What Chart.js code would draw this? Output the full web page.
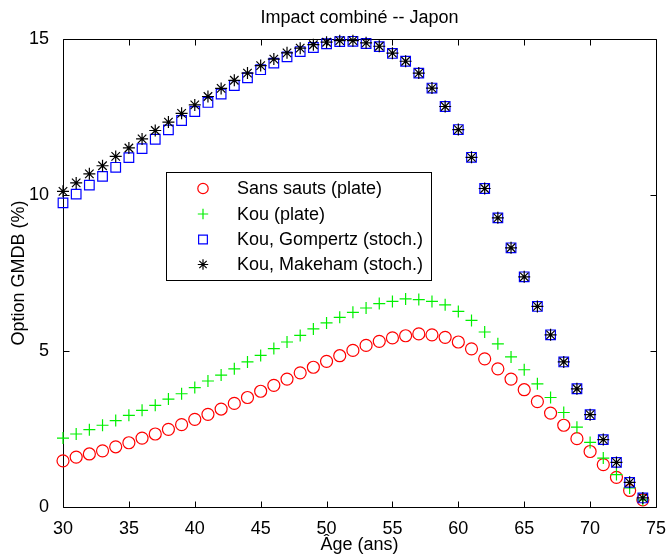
<!DOCTYPE html>
<html>
<head>
<meta charset="utf-8">
<title>Impact combiné -- Japon</title>
<script src="https://cdn.jsdelivr.net/npm/chart.js@4/dist/chart.umd.min.js"></script>
<style>
  body { margin: 0; background: #fff; }
  canvas { display: block; }
</style>
</head>
<body>
<canvas id="chart" width="669" height="558"></canvas>
<script>
// ages (ans)
const ages = [30, 31, 32, 33, 34, 35, 36, 37, 38, 39, 40, 41, 42, 43, 44,
  45, 46, 47, 48, 49, 50, 51, 52, 53, 54, 55, 56, 57, 58, 59,
  60, 61, 62, 63, 64, 65, 66, 67, 68, 69, 70, 71, 72, 73, 74];

// option GMDB (%) for each model
const sansSauts = [1.48, 1.60, 1.70, 1.80, 1.93, 2.06, 2.21, 2.34, 2.49, 2.64, 2.81, 2.97, 3.14, 3.32, 3.51,
  3.71, 3.90, 4.10, 4.30, 4.48, 4.67, 4.85, 5.02, 5.18, 5.31, 5.42, 5.49, 5.55, 5.52, 5.44,
  5.29, 5.07, 4.75, 4.43, 4.10, 3.76, 3.38, 3.01, 2.62, 2.19, 1.78, 1.36, 0.95, 0.53, 0.23];
const kouPlate = [2.21, 2.34, 2.48, 2.62, 2.77, 2.94, 3.10, 3.26, 3.46, 3.63, 3.83, 4.04, 4.23, 4.43, 4.65,
  4.86, 5.08, 5.29, 5.50, 5.71, 5.90, 6.08, 6.24, 6.38, 6.52, 6.59, 6.67, 6.65, 6.59, 6.48,
  6.27, 5.98, 5.61, 5.23, 4.81, 4.40, 3.95, 3.51, 3.03, 2.56, 2.07, 1.57, 1.04, 0.61, 0.23];
const kouGompertz = [9.75, 10.03, 10.32, 10.60, 10.89, 11.20, 11.49, 11.79, 12.09, 12.39, 12.68, 12.97, 13.24, 13.51, 13.76,
  14.02, 14.23, 14.43, 14.60, 14.73, 14.85, 14.92, 14.93, 14.86, 14.76, 14.54, 14.29, 13.91, 13.43, 12.84,
  12.10, 11.21, 10.21, 9.27, 8.31, 7.38, 6.43, 5.52, 4.65, 3.79, 2.96, 2.16, 1.43, 0.79, 0.29];
const kouMakeham = [10.12, 10.39, 10.68, 10.94, 11.24, 11.51, 11.80, 12.07, 12.34, 12.62, 12.89, 13.16, 13.42, 13.68, 13.91,
  14.15, 14.36, 14.56, 14.71, 14.82, 14.90, 14.95, 14.95, 14.88, 14.77, 14.55, 14.29, 13.91, 13.43, 12.84,
  12.10, 11.21, 10.21, 9.27, 8.31, 7.38, 6.43, 5.52, 4.65, 3.79, 2.96, 2.16, 1.43, 0.79, 0.29];

const seriesNames = ["Sans sauts (plate)", "Kou (plate)", "Kou, Gompertz (stoch.)", "Kou, Makeham (stoch.)"];
const xTicks = [30, 35, 40, 45, 50, 55, 60, 65, 70, 75];
const yTicks = [0, 5, 10, 15];

const FONT = "'Liberation Sans', Arial, Helvetica, sans-serif";
Chart.defaults.font.family = FONT;
Chart.defaults.font.size = 18;
Chart.defaults.color = "#000";

function toPoints(values) {
  return ages.map((a, i) => ({ x: a, y: values[i] }));
}

const styles = [
  { pointStyle: "circle", color: "#ff0000", radius: 6 },
  { pointStyle: "cross", color: "#00f000", radius: 6 },
  { pointStyle: "rect", color: "#0000ff", radius: 6.8 },
  { pointStyle: "star", color: "#000000", radius: 6 },
];
const seriesData = [sansSauts, kouPlate, kouGompertz, kouMakeham];

const datasets = seriesData.map((vals, i) => ({
  label: seriesNames[i],
  data: toPoints(vals),
  pointStyle: styles[i].pointStyle,
  pointRadius: styles[i].radius,
  pointHoverRadius: styles[i].radius,
  pointBorderColor: styles[i].color,
  pointBackgroundColor: "rgba(0,0,0,0)",
  pointBorderWidth: 1.2,
  showLine: false,
  clip: false,
  order: 3 - i, // later series on top
}));

// box with inward ticks on all four sides
const axesBox = {
  id: "axesBox",
  beforeDatasetsDraw(chart) {
    const { ctx, chartArea: a, scales } = chart;
    const l = Math.round(a.left) + 0.5, r = Math.round(a.right) + 0.5;
    const t = Math.round(a.top) + 0.5, b = Math.round(a.bottom) + 0.5;
    const tl = 6;
    ctx.save();
    ctx.strokeStyle = "#000";
    ctx.lineWidth = 1;
    ctx.beginPath();
    ctx.rect(l, t, r - l, b - t);
    xTicks.forEach((v) => {
      const px = Math.round(scales.x.getPixelForValue(v)) + 0.5;
      ctx.moveTo(px, b); ctx.lineTo(px, b - tl);
      ctx.moveTo(px, t); ctx.lineTo(px, t + tl);
    });
    yTicks.forEach((v) => {
      const py = Math.round(scales.y.getPixelForValue(v)) + 0.5;
      ctx.moveTo(l, py); ctx.lineTo(l + tl, py);
      ctx.moveTo(r, py); ctx.lineTo(r - tl, py);
    });
    ctx.stroke();
    ctx.restore();
  },
};

// legend box inside the plot
const boxLegend = {
  id: "boxLegend",
  afterDatasetsDraw(chart) {
    const ctx = chart.ctx;
    const box = { x: 166.5, y: 172.5, w: 265, h: 108 };
    const rowY = [188.5, 214, 239.5, 264.5];
    ctx.save();
    ctx.fillStyle = "#fff";
    ctx.fillRect(box.x, box.y, box.w, box.h);
    ctx.strokeStyle = "#000";
    ctx.lineWidth = 1;
    ctx.strokeRect(box.x, box.y, box.w, box.h);
    seriesNames.forEach((name, i) => {
      const st = styles[i];
      ctx.strokeStyle = st.color;
      ctx.fillStyle = "rgba(0,0,0,0)";
      ctx.lineWidth = 1.2;
      Chart.helpers.drawPoint(ctx, {
        pointStyle: st.pointStyle,
        radius: st.pointStyle === "rect" ? 6.2 : 5.2,
        rotation: 0,
        borderWidth: 1.2,
      }, 203, rowY[i]);
      ctx.fillStyle = "#000";
      ctx.font = "18px " + FONT;
      ctx.textBaseline = "middle";
      ctx.textAlign = "left";
      ctx.fillText(name, 237, rowY[i] + 1);
    });
    ctx.restore();
  },
};

const ctx = document.getElementById("chart").getContext("2d");
const chart = new Chart(ctx, {
  type: "scatter",
  data: { datasets },
  plugins: [axesBox, boxLegend],
  options: {
    responsive: false,
    animation: false,
    devicePixelRatio: 1,
    layout: { padding: { top: 0, right: 11, bottom: 0, left: 0 } },
    plugins: {
      legend: { display: false },
      tooltip: { enabled: false },
      title: {
        display: true,
        text: "Impact combiné -- Japon",
        fullSize: false,
        font: { size: 18, weight: "normal" },
        color: "#000",
        padding: { top: 7, bottom: 10.5 },
      },
    },
    scales: {
      x: {
        type: "linear",
        min: 30,
        max: 75,
        afterBuildTicks: (scale) => { scale.ticks = xTicks.map((v) => ({ value: v })); },
        ticks: { padding: 3, maxRotation: 0, autoSkip: false },
        grid: { display: false },
        border: { display: false },
        title: { display: true, text: "Âge (ans)", padding: { top: 0, bottom: 2 } },
        afterFit: (scale) => { scale.height = 51; },
      },
      y: {
        type: "linear",
        min: 0,
        max: 15,
        afterBuildTicks: (scale) => { scale.ticks = yTicks.map((v) => ({ value: v })); },
        ticks: { padding: 6, autoSkip: false },
        grid: { display: false },
        border: { display: false },
        title: { display: true, text: "Option GMDB (%)", padding: { top: 8, bottom: 0 } },
        afterFit: (scale) => { scale.width = 63; },
      },
    },
  },
});
</script>
</body>
</html>
